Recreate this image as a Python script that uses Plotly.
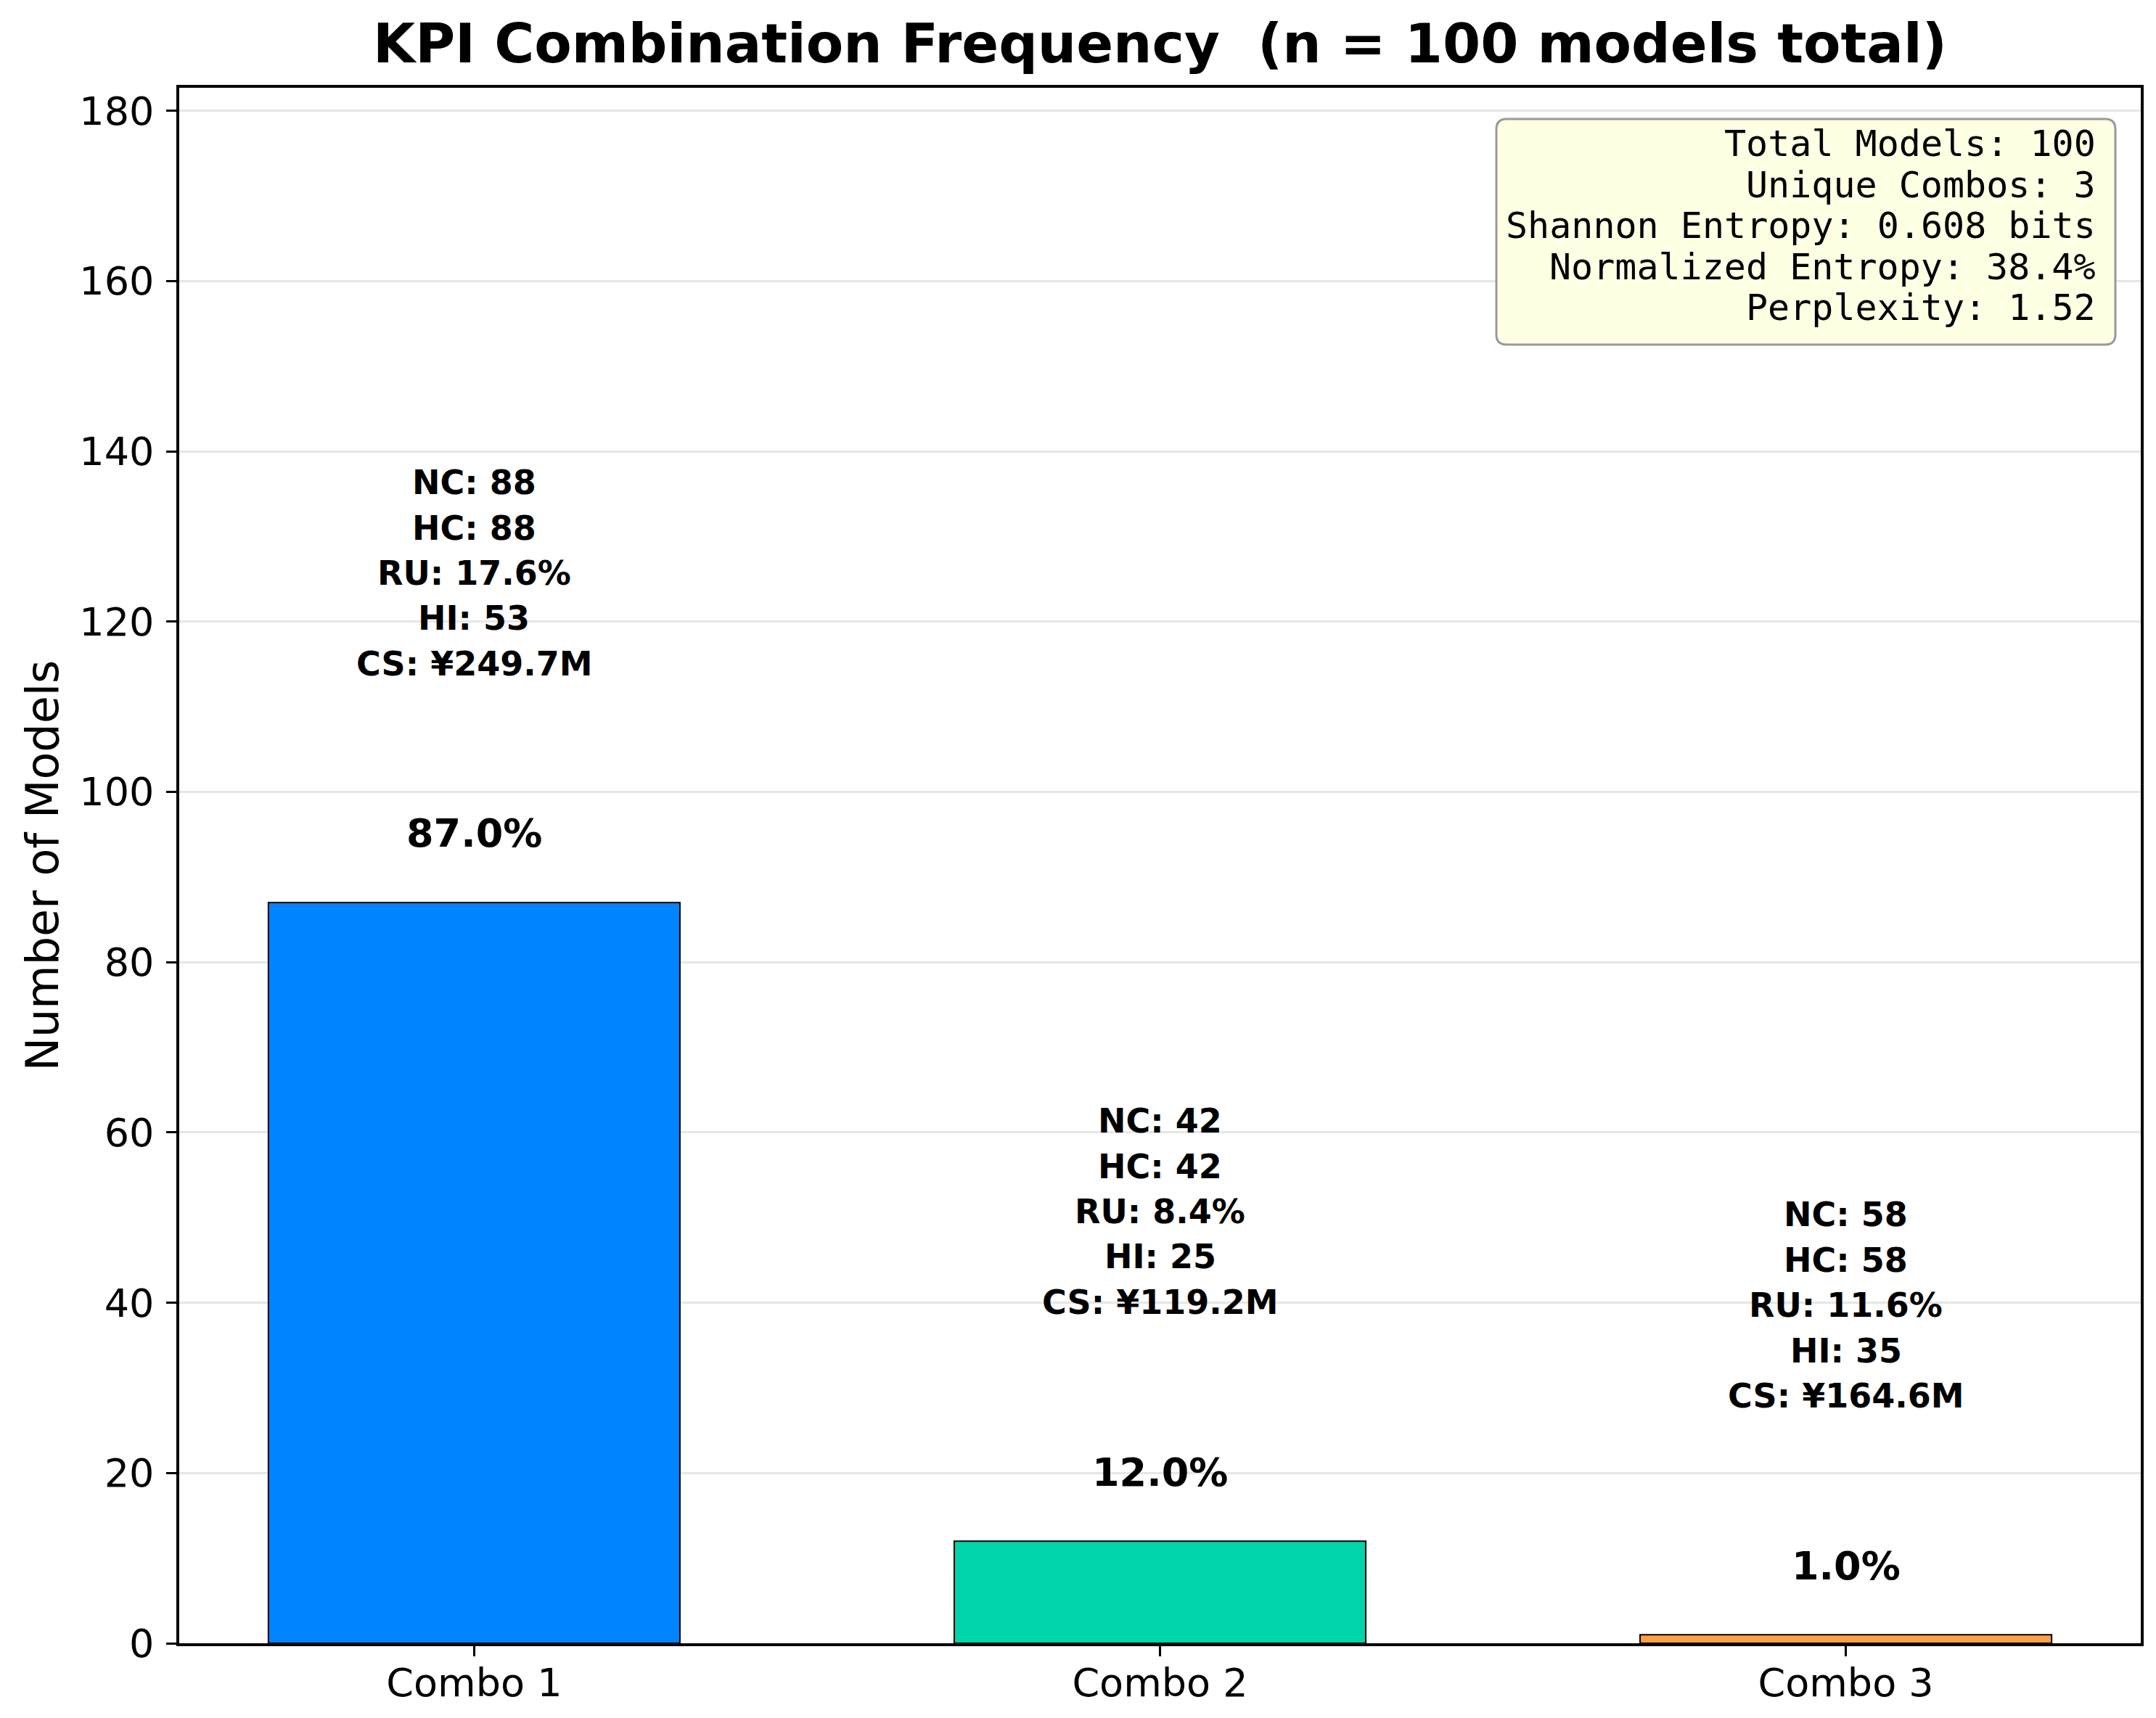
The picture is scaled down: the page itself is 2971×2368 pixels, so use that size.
import numpy as np
import plotly.graph_objects as go

# --- data ---
combos = ["Combo 1", "Combo 2", "Combo 3"]
counts = [87, 12, 1]
nc = [88, 42, 58]
hc = [88, 42, 58]
ru = [17.6, 8.4, 11.6]
hi = [53, 25, 35]
cs = [249.7, 119.2, 164.6]
bar_colors = ["#0084FF", "#00D4AA", "#FF9F43"]

total = sum(counts)
probs = np.array(counts) / total
entropy = float(-(probs * np.log2(probs)).sum())
norm_entropy = entropy / np.log2(len(counts))
perplexity = 2 ** entropy

W, H = 2971, 2368
L, R, T, B = 239, 29, 113, 111
pw, ph = W - L - R, H - T - B

FONT = "DejaVu Sans"
MONO = "DejaVu Sans Mono"

fig = go.Figure()
fig.add_trace(go.Bar(
    x=combos, y=counts, width=0.6,
    marker=dict(color=bar_colors, line=dict(color="black", width=2)),
    hoverinfo="skip",
))

ymax = max(counts) * 2.1
u_per_px = ymax / ph
kpi_step = 62.4 * u_per_px

annotations = []
for i, c in enumerate(combos):
    pct = counts[i] / total * 100
    annotations.append(dict(
        x=c, y=counts[i] + 8.1, xref="x", yref="y", showarrow=False,
        text=f"<b>{pct:.1f}%</b>", font=dict(family=FONT, size=54, color="black"),
        xanchor="center", yanchor="middle",
    ))
    kpi_lines = [f"NC: {nc[i]}", f"HC: {hc[i]}", f"RU: {ru[i]}%",
                 f"HI: {hi[i]}", f"CS: ¥{cs[i]}M"]
    mid = counts[i] + 38.7
    for k, line in enumerate(kpi_lines):
        annotations.append(dict(
            x=c, y=mid - (k - 2) * kpi_step, xref="x", yref="y", showarrow=False,
            text=f"<b>{line}</b>", font=dict(family=FONT, size=46, color="black"),
            xanchor="center", yanchor="middle",
        ))

# stats box, one annotation per line to keep matplotlib-like spacing
stats_lines = [
    f"Total Models: {total}",
    f"Unique Combos: {len(combos)}",
    f"Shannon Entropy: {entropy:.3f} bits",
    f"Normalized Entropy: {norm_entropy * 100:.1f}%",
    f"Perplexity: {perplexity:.2f}",
]
text_right = (2882 - L) / pw
for k, line in enumerate(stats_lines):
    cy = 190 + k * 56.5
    annotations.append(dict(
        x=text_right, y=(H - B - cy) / ph, xref="paper", yref="paper",
        showarrow=False, text=line, font=dict(family=MONO, size=50, color="black"),
        xanchor="right", yanchor="middle", align="right",
    ))

# rounded box behind stats
bx0, bx1 = (2054 - L) / pw, (2907 - L) / pw
by1, by0 = (H - B - 156) / ph, (H - B - 467) / ph
rx, ry = 14 / pw, 14 / ph
path = (f"M {bx0 + rx},{by0} L {bx1 - rx},{by0} Q {bx1},{by0} {bx1},{by0 + ry} "
        f"L {bx1},{by1 - ry} Q {bx1},{by1} {bx1 - rx},{by1} "
        f"L {bx0 + rx},{by1} Q {bx0},{by1} {bx0},{by1 - ry} "
        f"L {bx0},{by0 + ry} Q {bx0},{by0} {bx0 + rx},{by0} Z")
shapes = [dict(type="path", xref="paper", yref="paper", path=path,
               fillcolor="#FFFFE3", line=dict(color="#999999", width=3), layer="above")]

fig.update_layout(
    width=W, height=H,
    margin=dict(l=L, r=R, t=T, b=B),
    paper_bgcolor="white", plot_bgcolor="white",
    showlegend=False,
    font=dict(family=FONT, color="black"),
    title=dict(
        text="<b>KPI Combination Frequency \u00a0(n = 100 models total)</b>",
        font=dict(family=FONT, size=75, color="black"),
        x=0.5, xref="paper", xanchor="center",
        y=1 - 52 / H, yref="container", yanchor="middle",
    ),
    annotations=annotations,
    shapes=shapes,
    bargap=0.4,
)
fig.update_xaxes(
    range=[-0.43, 2.43],
    showline=True, mirror=True, linecolor="black", linewidth=3.5,
    ticks="outside", ticklen=14, tickwidth=3, tickcolor="black",
    tickfont=dict(family=FONT, size=54, color="black"),
    ticklabelstandoff=-10,
    showgrid=False,
)
fig.update_yaxes(
    range=[0, ymax], dtick=20, tick0=0,
    showline=True, mirror=True, linecolor="black", linewidth=3.5,
    ticks="outside", ticklen=14, tickwidth=3, tickcolor="black",
    tickfont=dict(family=FONT, size=54, color="black"),
    ticklabelstandoff=6,
    showgrid=True, gridcolor="#e6e6e6", gridwidth=2.5,
    zeroline=False,
    title=dict(text="Number of Models", font=dict(family=FONT, size=62, color="black"), standoff=10),
)

fig.write_html("out.html")
